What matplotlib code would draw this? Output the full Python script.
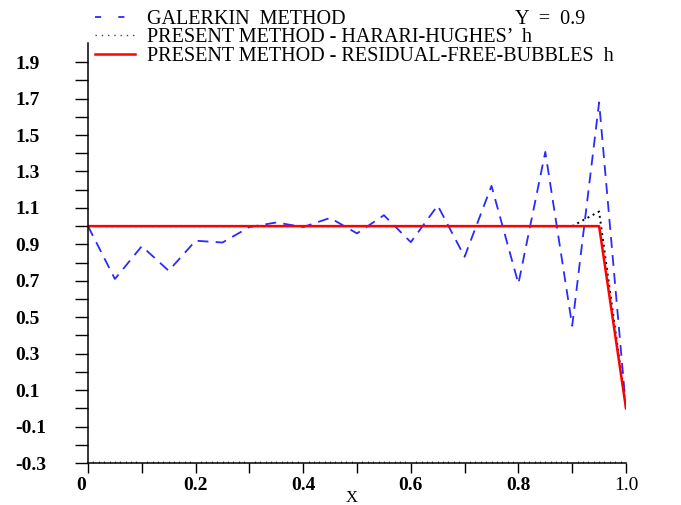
import matplotlib
matplotlib.use("Agg")
import matplotlib.pyplot as plt
from matplotlib.lines import Line2D
from matplotlib.transforms import ScaledTranslation
import numpy as np

# values (Y = 0.9 section)
x_galerkin = [0.0, 0.05, 0.1, 0.15, 0.2, 0.25, 0.3, 0.35, 0.4, 0.45, 0.5,
              0.55, 0.6, 0.65, 0.7, 0.75, 0.8, 0.85, 0.9, 0.95, 1.0]
y_galerkin = [1.0, 0.71, 0.89, 0.755, 0.92, 0.91, 0.995, 1.02, 0.995, 1.045, 0.96,
              1.06, 0.912, 1.113, 0.832, 1.221, 0.684, 1.407, 0.453, 1.679, 0.0]
x_harari = [0.0, 0.9, 0.95, 1.0]
y_harari = [1.0, 1.0, 1.08, 0.0]
x_rfb = [0.0, 0.95, 1.0]
y_rfb = [1.0, 1.0, 0.0]

labels = ["GALERKIN  METHOD",
          "PRESENT METHOD - HARARI-HUGHES\u2019  h",
          "PRESENT METHOD - RESIDUAL-FREE-BUBBLES  h"]
yticks = np.round(np.arange(-0.3, 2.0, 0.1), 1)
ytick_labels = ["%.1f" % v if i % 2 == 0 else "" for i, v in enumerate(yticks)]
xticks = np.round(np.arange(0.0, 1.01, 0.1), 1)
xtick_labels = ["0", "", "0.2", "", "0.4", "", "0.6", "", "0.8", "", "1.0"]

plt.rcParams["font.family"] = ["Liberation Serif", "DejaVu Serif"]

fig = plt.figure(figsize=(6.81, 5.05), dpi=100)
ax = fig.add_axes([88 / 681, 42 / 505, 538 / 681, 420 / 505])

blue = "#2a2aff"
ax.plot(x_galerkin, y_galerkin, color=blue, lw=1.3, dashes=(6, 4))
ax.plot(x_harari, y_harari, color="black", lw=1.4, ls=(0, (1, 2)))
ax.plot(x_rfb, y_rfb, color="red", lw=1.8)

ax.set_xlim(0.0, 1.0)
ax.set_ylim(-0.3, 2.005)
ax.spines["top"].set_visible(False)
ax.spines["right"].set_visible(False)
for s in ("left", "bottom"):
    ax.spines[s].set_linewidth(1.1)

ax.set_yticks(yticks)
ax.set_yticklabels(ytick_labels, fontsize=14, fontweight="bold", ha="left")
ax.tick_params(axis="y", direction="out", length=9.4, width=1.0, pad=43.2)
ax.set_xticks(xticks)
ax.set_xticklabels(xtick_labels, fontsize=14, fontweight="bold")
ax.tick_params(axis="x", direction="out", length=7.2, width=1.0, pad=3.0)
ax.set_xticks(np.arange(0.0, 1.0, 0.01), minor=True)
ax.tick_params(axis="x", which="minor", direction="in", length=1.5, width=0.5)
# last label is plain, the "0" sits a little left of its tick
xl = ax.get_xticklabels()
xl[-1].set_fontweight("normal")
xl[0].set_transform(xl[0].get_transform() + ScaledTranslation(-7 / 100, 0, fig.dpi_scale_trans))

fig.text(352 / 681, 1 - 498 / 505, "X", fontsize=12, ha="center", va="center")

handles = [Line2D([], [], color=blue, lw=1.3, dashes=(3.4, 9.5)),
           Line2D([], [], color="#444444", lw=1.0, ls=(0, (1, 3.5))),
           Line2D([], [], color="red", lw=1.8)]
ax.legend(handles, labels, loc="upper left", bbox_to_anchor=(95 / 681, 1 - 9.5 / 505),
          bbox_transform=fig.transFigure, frameon=False, fontsize=14.5,
          handlelength=2.0, handletextpad=0.58, labelspacing=-0.03,
          borderpad=0, borderaxespad=0)
fig.text(515 / 681, 1 - 24 / 505, "Y  =  0.9", fontsize=14.5, ha="left", va="baseline")

fig.savefig("out.png", dpi=100)
